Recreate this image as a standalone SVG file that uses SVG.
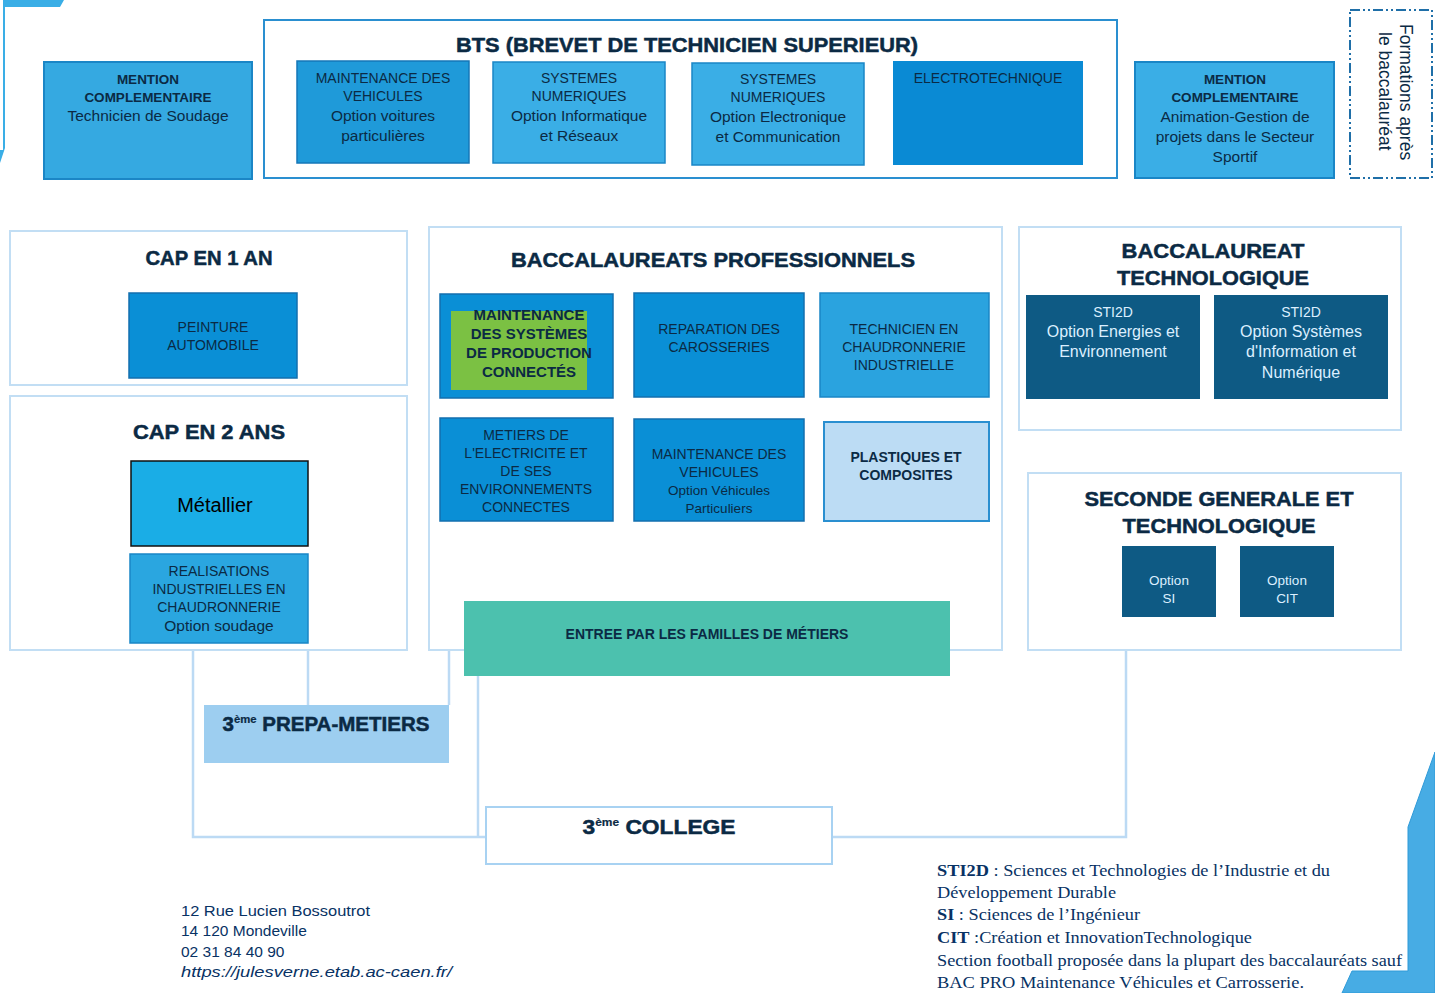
<svg xmlns="http://www.w3.org/2000/svg" width="1435" height="993" viewBox="0 0 1435 993">
<style>
text{font-family:"Liberation Sans",Arial,sans-serif;fill:#0b2a44}
.t{font-weight:bold;text-anchor:middle}
.h{stroke:#0b2a44;stroke-width:0.5}
.c{text-anchor:middle}
.s{font-size:14px}
.m{font-size:15.5px}
.w{fill:#dcefff;text-anchor:middle}
.cont{fill:#fff;stroke:#c2def4;stroke-width:2}
.conn{fill:none;stroke:#bcdaf4;stroke-width:2.5}
.leg{font-family:"Liberation Serif","Times New Roman",serif;font-size:17px;fill:#083264}
.addr{font-size:15.5px;fill:#083264}
</style>

<!-- decorative corners -->
<g id="deco">
<path d="M0,0 H64 L60,7 H5 V148 L0,163 Z" fill="#3aaee6"/>
<rect x="0" y="0" width="3" height="150" fill="#fff"/>
<polygon points="1435,752 1408,827 1408,971 1352,971 1342,993 1435,993" fill="#47ace4" stroke="#2f9ad8" stroke-width="1"/>
</g>

<!-- connectors -->
<g id="connectors">
<polyline class="conn" points="193,650 193,837 487,837"/>
<polyline class="conn" points="832,837 1126,837 1126,650"/>
<line class="conn" x1="308" y1="650" x2="308" y2="705"/>
<line class="conn" x1="449" y1="650" x2="449" y2="705"/>
<line class="conn" x1="478" y1="676" x2="478" y2="837"/>
</g>

<!-- top row -->
<g id="mc-soudage">
<rect x="44" y="62" width="208" height="117" fill="#35a9e1" stroke="#1b86c6" stroke-width="2"/>
<text class="t" font-size="13.5" x="148" y="84">MENTION</text>
<text class="t" font-size="13.5" x="148" y="102">COMPLEMENTAIRE</text>
<text class="c m" x="148" y="121">Technicien  de Soudage</text>
</g>

<g id="bts">
<rect x="264" y="20" width="853" height="158" fill="#fff" stroke="#2a8fd0" stroke-width="2"/>
<text class="t h" font-size="21" x="687" y="52" textLength="462" lengthAdjust="spacingAndGlyphs">BTS (BREVET DE TECHNICIEN SUPERIEUR)</text>
</g>
<g id="bts-mv">
<rect x="297" y="61" width="172" height="102" fill="#1f9ad9" stroke="#1577b8" stroke-width="1.5"/>
<text class="c s" x="383" y="83">MAINTENANCE DES</text>
<text class="c s" x="383" y="101">VEHICULES</text>
<text class="c m" x="383" y="121">Option voitures</text>
<text class="c m" x="383" y="141">particulières</text>
</g>
<g id="bts-snir">
<rect x="493" y="62" width="172" height="101" fill="#3aaee6" stroke="#1a86c6" stroke-width="1.5"/>
<text class="c s" x="579" y="83">SYSTEMES</text>
<text class="c s" x="579" y="101">NUMERIQUES</text>
<text class="c m" x="579" y="121">Option Informatique</text>
<text class="c m" x="579" y="141">et Réseaux</text>
</g>
<g id="bts-snec">
<rect x="692" y="63" width="172" height="102" fill="#3aaee6" stroke="#1a86c6" stroke-width="1.5"/>
<text class="c s" x="778" y="84">SYSTEMES</text>
<text class="c s" x="778" y="102">NUMERIQUES</text>
<text class="c m" x="778" y="122">Option Electronique</text>
<text class="c m" x="778" y="142">et Communication</text>
</g>
<g id="bts-elec">
<rect x="893" y="61" width="190" height="104" fill="#0a8ad4"/>
<text class="c s" x="988" y="83">ELECTROTECHNIQUE</text>
</g>

<g id="mc-sport">
<rect x="1135" y="62" width="199" height="116" fill="#3aaee6" stroke="#1a86c6" stroke-width="2"/>
<text class="t" font-size="13.5" x="1235" y="84">MENTION</text>
<text class="t" font-size="13.5" x="1235" y="102">COMPLEMENTAIRE</text>
<text class="c m" x="1235" y="122">Animation-Gestion de</text>
<text class="c m" x="1235" y="142">projets dans le Secteur</text>
<text class="c m" x="1235" y="162">Sportif</text>
</g>

<g id="apres-bac">
<rect x="1350" y="10" width="82" height="168" fill="#fff" stroke="#1f6fa8" stroke-width="2" stroke-dasharray="10,3,2,3,2,3"/>
<text font-size="17.5" transform="translate(1400,24) rotate(90)">Formations après</text>
<text font-size="17.5" transform="translate(1379,32) rotate(90)">le baccalauréat</text>
</g>

<!-- CAP 1 an -->
<g id="cap1">
<rect class="cont" x="10" y="231" width="397" height="154"/>
<text class="t h" font-size="20" x="209" y="265" textLength="127" lengthAdjust="spacingAndGlyphs">CAP EN 1 AN</text>
</g>
<g id="peinture">
<rect x="129" y="293" width="168" height="85" fill="#0a8fd6" stroke="#136fae" stroke-width="1.5"/>
<text class="c s" x="213" y="332">PEINTURE</text>
<text class="c s" x="213" y="350">AUTOMOBILE</text>
</g>

<!-- CAP 2 ans -->
<g id="cap2">
<rect class="cont" x="10" y="396" width="397" height="254"/>
<text class="t h" font-size="21" x="209" y="439" textLength="152" lengthAdjust="spacingAndGlyphs">CAP EN 2 ANS</text>
</g>
<g id="metallier">
<rect x="131" y="461" width="177" height="85" fill="#1aade6" stroke="#111" stroke-width="1.5"/>
<text class="c" font-size="20" x="215" y="512" style="fill:#000">Métallier</text>
</g>
<g id="realisations">
<rect x="130" y="554" width="178" height="89" fill="#2aa6e0" stroke="#1a86c6" stroke-width="1.5"/>
<text class="c s" x="219" y="576">REALISATIONS</text>
<text class="c s" x="219" y="594">INDUSTRIELLES EN</text>
<text class="c s" x="219" y="612">CHAUDRONNERIE</text>
<text class="c m" x="219" y="631">Option soudage</text>
</g>

<!-- Bac pro -->
<g id="bacpro">
<rect class="cont" x="429" y="227" width="573" height="423"/>
<text class="t h" font-size="21" x="713" y="267" textLength="404" lengthAdjust="spacingAndGlyphs">BACCALAUREATS PROFESSIONNELS</text>
</g>
<g id="msp">
<rect x="440" y="294" width="173" height="104" fill="#0a8fd6" stroke="#136fae" stroke-width="1.5"/>
<rect x="451" y="311" width="136" height="79" fill="#7bc143"/>
<text class="t" font-size="15" x="529" y="320">MAINTENANCE</text>
<text class="t" font-size="15" x="529" y="339">DES SYSTÈMES</text>
<text class="t" font-size="15" x="529" y="358">DE PRODUCTION</text>
<text class="t" font-size="15" x="529" y="377">CONNECTÉS</text>
</g>
<g id="carosseries">
<rect x="634" y="293" width="170" height="104" fill="#0a8fd6" stroke="#136fae" stroke-width="1.5"/>
<text class="c s" x="719" y="334">REPARATION DES</text>
<text class="c s" x="719" y="352">CAROSSERIES</text>
</g>
<g id="chaudronnerie">
<rect x="820" y="293" width="169" height="104" fill="#2aa3df" stroke="#1a86c6" stroke-width="1.5"/>
<text class="c s" x="904" y="334">TECHNICIEN EN</text>
<text class="c s" x="904" y="352">CHAUDRONNERIE</text>
<text class="c s" x="904" y="370">INDUSTRIELLE</text>
</g>
<g id="melec">
<rect x="440" y="418" width="173" height="103" fill="#0a8fd6" stroke="#136fae" stroke-width="1.5"/>
<text class="c s" x="526" y="440">METIERS  DE</text>
<text class="c s" x="526" y="458">L'ELECTRICITE ET</text>
<text class="c s" x="526" y="476">DE SES</text>
<text class="c s" x="526" y="494">ENVIRONNEMENTS</text>
<text class="c s" x="526" y="512">CONNECTES</text>
</g>
<g id="mv">
<rect x="634" y="419" width="170" height="102" fill="#0a8fd6" stroke="#136fae" stroke-width="1.5"/>
<text class="c s" x="719" y="459">MAINTENANCE DES</text>
<text class="c s" x="719" y="477">VEHICULES</text>
<text class="c" font-size="13.5" x="719" y="495">Option Véhicules</text>
<text class="c" font-size="13.5" x="719" y="513">Particuliers</text>
</g>
<g id="plastiques">
<rect x="824" y="422" width="165" height="99" fill="#bcdcf4" stroke="#2a8fd0" stroke-width="2"/>
<text class="t" font-size="14" x="906" y="462">PLASTIQUES ET</text>
<text class="t" font-size="14" x="906" y="480">COMPOSITES</text>
</g>
<g id="entree">
<rect x="464" y="601" width="486" height="75" fill="#4cc1ae"/>
<text class="t" font-size="14" x="707" y="639">ENTREE PAR LES FAMILLES DE MÉTIERS</text>
</g>

<!-- Bac techno -->
<g id="bactechno">
<rect class="cont" x="1019" y="227" width="382" height="203"/>
<text class="t h" font-size="21" x="1213" y="258" textLength="183" lengthAdjust="spacingAndGlyphs">BACCALAUREAT</text>
<text class="t h" font-size="21" x="1213" y="285" textLength="192" lengthAdjust="spacingAndGlyphs">TECHNOLOGIQUE</text>
</g>
<g id="sti2d-ee">
<rect x="1026" y="295" width="174" height="104" fill="#0e5a84"/>
<text class="w s" x="1113" y="317">STI2D</text>
<text class="w" font-size="16" x="1113" y="337">Option Energies et</text>
<text class="w" font-size="16" x="1113" y="357">Environnement</text>
</g>
<g id="sti2d-sin">
<rect x="1214" y="295" width="174" height="104" fill="#0e5a84"/>
<text class="w s" x="1301" y="317">STI2D</text>
<text class="w" font-size="16" x="1301" y="337">Option Systèmes</text>
<text class="w" font-size="16" x="1301" y="357">d'Information et</text>
<text class="w" font-size="16" x="1301" y="378">Numérique</text>
</g>

<!-- Seconde -->
<g id="seconde">
<rect class="cont" x="1028" y="473" width="373" height="177"/>
<text class="t h" font-size="21" x="1219" y="506" textLength="269" lengthAdjust="spacingAndGlyphs">SECONDE GENERALE ET</text>
<text class="t h" font-size="21" x="1219" y="533" textLength="193" lengthAdjust="spacingAndGlyphs">TECHNOLOGIQUE</text>
</g>
<g id="opt-si">
<rect x="1122" y="546" width="94" height="71" fill="#0e5a84"/>
<text class="w" font-size="13.5" x="1169" y="585">Option</text>
<text class="w" font-size="13.5" x="1169" y="603">SI</text>
</g>
<g id="opt-cit">
<rect x="1240" y="546" width="94" height="71" fill="#0e5a84"/>
<text class="w" font-size="13.5" x="1287" y="585">Option</text>
<text class="w" font-size="13.5" x="1287" y="603">CIT</text>
</g>

<!-- 3e -->
<g id="prepa">
<rect x="204" y="705" width="245" height="58" fill="#9dcef0"/>
<text class="t h" font-size="20" x="326" y="731" textLength="207" lengthAdjust="spacingAndGlyphs">3<tspan font-size="11" dy="-8" stroke-width="0.2">ème</tspan><tspan dy="8"> PREPA-METIERS</tspan></text>
</g>
<g id="college">
<rect x="486" y="807" width="346" height="57" fill="#fff" stroke="#a8d2f2" stroke-width="2"/>
<text class="t h" font-size="21" x="659" y="834" textLength="153" lengthAdjust="spacingAndGlyphs">3<tspan font-size="11" dy="-8" stroke-width="0.2">ème</tspan><tspan dy="8"> COLLEGE</tspan></text>
</g>

<!-- address -->
<g id="address">
<text class="addr" x="181" y="916" textLength="189" lengthAdjust="spacingAndGlyphs">12 Rue Lucien Bossoutrot</text>
<text class="addr" x="181" y="936">14 120 Mondeville</text>
<text class="addr" x="181" y="957">02 31 84 40 90</text>
<text class="addr" x="181" y="977" font-style="italic" textLength="271" lengthAdjust="spacingAndGlyphs">https://julesverne.etab.ac-caen.fr/</text>
</g>

<!-- legend -->
<g id="legend">
<text class="leg" x="937" y="876" textLength="393" lengthAdjust="spacingAndGlyphs"><tspan font-weight="bold">STI2D</tspan> : Sciences et Technologies de l’Industrie et du</text>
<text class="leg" x="937" y="898" textLength="179" lengthAdjust="spacingAndGlyphs">Développement Durable</text>
<text class="leg" x="937" y="920" textLength="203" lengthAdjust="spacingAndGlyphs"><tspan font-weight="bold">SI</tspan> : Sciences de l’Ingénieur</text>
<text class="leg" x="937" y="943" textLength="315" lengthAdjust="spacingAndGlyphs"><tspan font-weight="bold">CIT</tspan> :Création et InnovationTechnologique</text>
<text class="leg" x="937" y="966" textLength="465" lengthAdjust="spacingAndGlyphs">Section football proposée dans la plupart des baccalauréats sauf</text>
<text class="leg" x="937" y="988" textLength="367" lengthAdjust="spacingAndGlyphs">BAC PRO Maintenance Véhicules  et Carrosserie.</text>
</g>
</svg>
